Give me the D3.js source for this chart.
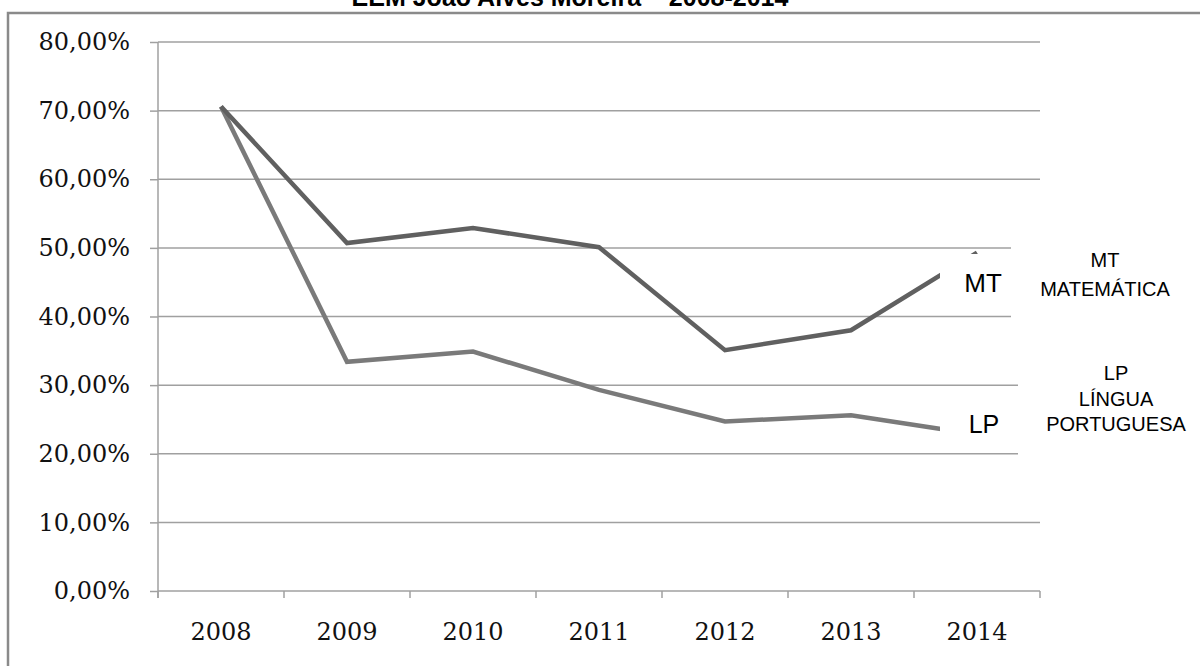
<!DOCTYPE html>
<html>
<head>
<meta charset="utf-8">
<script src="https://cdn.jsdelivr.net/npm/d3@7"></script>
<style>
  body { margin: 0; background: #fff; }
  svg { display: block; }
</style>
</head>
<body>
<div id="chart"></div>
<script>
var years = ["2008", "2009", "2010", "2011", "2012", "2013", "2014"];
var mt = [70.6, 50.7, 52.9, 50.1, 35.1, 38.0, 49.3];
var lp = [70.6, 33.4, 34.9, 29.3, 24.7, 25.6, 22.8];
var yTicks = [0, 10, 20, 30, 40, 50, 60, 70, 80];

var svg = d3.select("#chart").append("svg").attr("width", 1200).attr("height", 666);

// outer frame (runs off the right and bottom edges)
svg.append("rect").attr("x", 8).attr("y", 13).attr("width", 1300).attr("height", 700)
  .attr("fill", "none").attr("stroke", "#8a8a8a").attr("stroke-width", 2.5);

// title, cut off at the top like in the source
svg.append("text").attr("x", 570).attr("y", 6).attr("text-anchor", "middle")
  .style("font-family", "Liberation Sans, Arial, sans-serif").style("font-weight", "bold")
  .style("font-size", "25px").text("EEM João Alves Moreira – 2008-2014");

var x = d3.scaleBand().domain(years).range([158, 1040]);
var y = d3.scaleLinear().domain([0, 80]).range([591, 42]);
var cx = function(d) { return x(d) + x.bandwidth() / 2; };

// grid
svg.append("g").selectAll("line").data(yTicks.slice(1)).enter().append("line")
  .attr("x1", 158).attr("x2", 1040)
  .attr("y1", function(d) { return y(d); }).attr("y2", function(d) { return y(d); })
  .attr("stroke", "#a0a0a0").attr("stroke-width", 1.5);

// y axis
var yAxis = svg.append("g").attr("transform", "translate(158,0)")
  .call(d3.axisLeft(y).tickValues(yTicks).tickSize(8).tickPadding(20)
    .tickFormat(function(d) { return d3.format(".2f")(d).replace(".", ",") + "%"; }));
yAxis.select(".domain").remove();
yAxis.append("line").attr("x1", 0).attr("x2", 0).attr("y1", y(80)).attr("y2", 598)
  .attr("stroke", "#a0a0a0").attr("stroke-width", 1.5);
yAxis.selectAll(".tick line").attr("stroke", "#a0a0a0").attr("stroke-width", 1.5);
yAxis.selectAll("text").style("font-family", "DejaVu Serif, serif").style("font-size", "24px").attr("fill", "#111");

// x axis
var xAxis = svg.append("g").attr("transform", "translate(0,591)")
  .call(d3.axisBottom(x).tickSize(0).tickPadding(32));
xAxis.select(".domain").remove();
xAxis.selectAll("text").style("font-family", "DejaVu Serif, serif").style("font-size", "24px").attr("fill", "#111");
xAxis.append("line").attr("x1", 158).attr("x2", 1040).attr("y1", 0).attr("y2", 0)
  .attr("stroke", "#a0a0a0").attr("stroke-width", 1.5);
xAxis.selectAll(".bound").data(years.concat(["end"])).enter().append("line")
  .attr("x1", function(d) { return d === "end" ? 1040 : x(d); })
  .attr("x2", function(d) { return d === "end" ? 1040 : x(d); })
  .attr("y1", 0).attr("y2", 7)
  .attr("stroke", "#a0a0a0").attr("stroke-width", 1.5);

// lines
var line = d3.line().x(function(d, i) { return cx(years[i]); }).y(function(d) { return y(d); });
svg.append("path").datum(lp).attr("d", line).attr("fill", "none")
  .attr("stroke", "#7a7a7a").attr("stroke-width", 4.5).attr("stroke-linejoin", "miter");
svg.append("path").datum(mt).attr("d", line).attr("fill", "none")
  .attr("stroke", "#606060").attr("stroke-width", 4.5).attr("stroke-linejoin", "miter");

// white label boxes over the line ends and grid
svg.append("rect").attr("x", 940).attr("y", 254).attr("width", 70).attr("height", 54).attr("fill", "#fff");
svg.append("rect").attr("x", 940).attr("y", 406).attr("width", 70).attr("height", 42).attr("fill", "#fff");
svg.append("rect").attr("x", 1011).attr("y", 238).attr("width", 189).attr("height", 86).attr("fill", "#fff");
svg.append("rect").attr("x", 1018).attr("y", 352).attr("width", 182).attr("height", 110).attr("fill", "#fff");

var sans = "Liberation Sans, Arial, sans-serif";
svg.append("text").attr("x", 983).attr("y", 292).attr("text-anchor", "middle")
  .style("font-family", sans).style("font-size", "26px").text("MT");
svg.append("text").attr("x", 984).attr("y", 433).attr("text-anchor", "middle")
  .style("font-family", sans).style("font-size", "25px").text("LP");

var mtLabel = ["MT", "MATEMÁTICA"];
svg.append("g").selectAll("text").data(mtLabel).enter().append("text")
  .attr("x", 1105).attr("y", function(d, i) { return 267 + i * 28.5; })
  .attr("text-anchor", "middle").style("font-family", sans).style("font-size", "20px")
  .text(function(d) { return d; });

var lpLabel = ["LP", "LÍNGUA", "PORTUGUESA"];
svg.append("g").selectAll("text").data(lpLabel).enter().append("text")
  .attr("x", 1116).attr("y", function(d, i) { return 380 + i * 25.5; })
  .attr("text-anchor", "middle").style("font-family", sans).style("font-size", "20px")
  .text(function(d) { return d; });
</script>
</body>
</html>
